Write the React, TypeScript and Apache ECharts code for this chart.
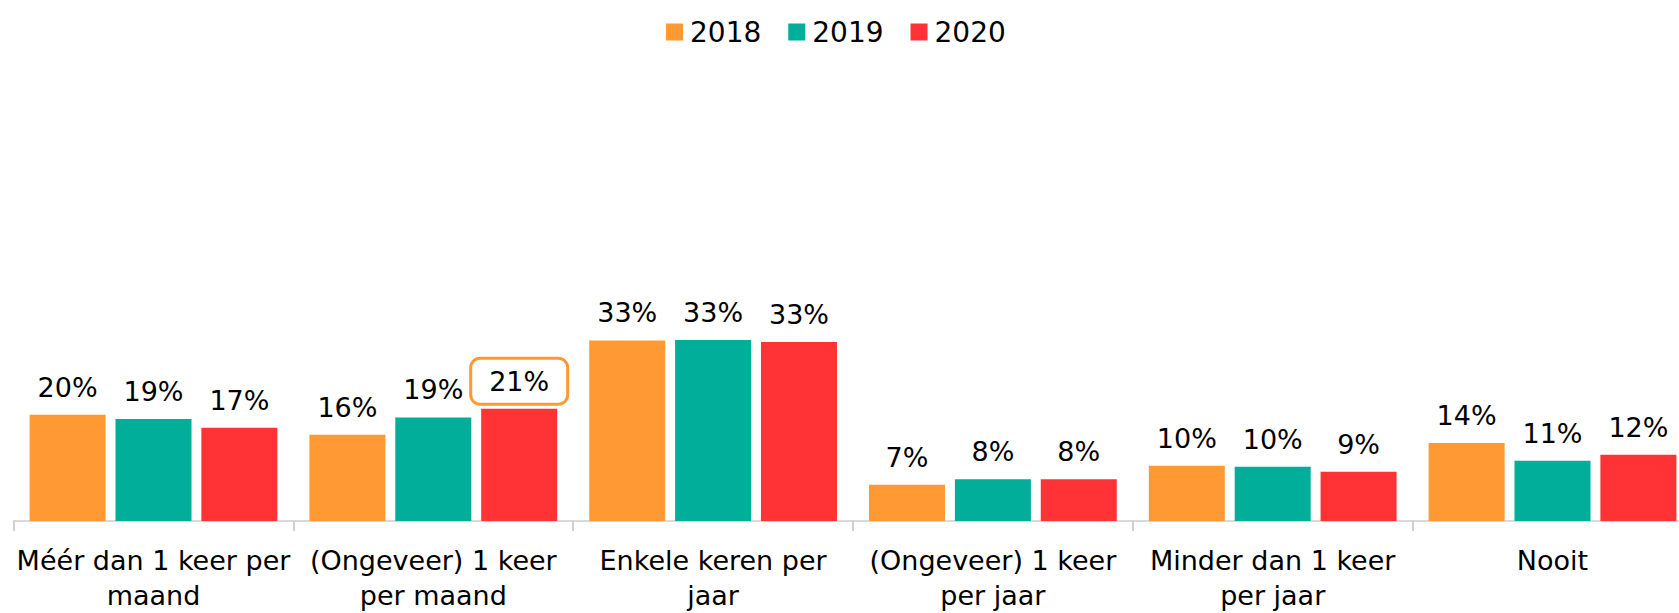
import React, { useEffect, useRef } from "react";
import * as echarts from "echarts";

const categories = [
  "Méér dan 1 keer per\nmaand",
  "(Ongeveer) 1 keer\nper maand",
  "Enkele keren per\njaar",
  "(Ongeveer) 1 keer\nper jaar",
  "Minder dan 1 keer\nper jaar",
  "Nooit",
];
const seriesNames = ["2018", "2019", "2020"];
const values2018 = [19.6, 15.9, 33.3, 6.7, 10.2, 14.4];
const values2019 = [18.8, 19.1, 33.4, 7.7, 10.0, 11.1];
const values2020 = [17.2, 20.7, 33.0, 7.7, 9.1, 12.2];
const colors = ["#FF9933", "#00AE99", "#FF3336"];
const highlightSeries = 2;
const highlightIndex = 1;

const FONT = "DejaVu Sans";

export default function App() {
  const ref = useRef<HTMLDivElement>(null);
  useEffect(() => {
    if (!ref.current) return;
    const chart = echarts.init(ref.current, null, { renderer: "svg" });
    const all = [values2018, values2019, values2020];
    const series = all.map((vals, si) => ({
      name: seriesNames[si],
      type: "bar",
      barWidth: 76,
      barGap: "13%",
      itemStyle: { color: colors[si] },
      label: {
        show: true,
        position: "top",
        distance: 14,
        fontFamily: FONT,
        fontSize: 27,
        color: "#000",
        formatter: (p: any) => Math.round(p.value) + "%",
      },
      data: vals.map((v, i) =>
        si === highlightSeries && i === highlightIndex
          ? {
              value: v,
              label: {
                borderColor: colors[0],
                borderWidth: 3,
                borderRadius: 8,
                padding: [8, 17],
                distance: 6,
                backgroundColor: "#fff",
              },
            }
          : v
      ),
    }));
    chart.setOption({
      animation: false,
      legend: {
        top: 13,
        left: 661,
        icon: "rect",
        itemWidth: 17,
        itemHeight: 17,
        itemGap: 27,
        textStyle: { fontFamily: FONT, fontSize: 28, color: "#000", padding: [0, 0, 0, 2] },
        data: seriesNames,
      },
      grid: { left: 13.6, right: 0.6, top: 87.3, bottom: 90.5, containLabel: false },
      xAxis: {
        type: "category",
        data: categories,
        axisLine: { lineStyle: { color: "#d9d9d9", width: 2 } },
        axisTick: { show: true, length: 10, lineStyle: { color: "#d0d0d0", width: 2 } },
        axisLabel: {
          fontFamily: FONT,
          fontSize: 27,
          color: "#000",
          lineHeight: 35,
          margin: 22,
          interval: 0,
        },
      },
      yAxis: { type: "value", min: 0, max: 80, show: false, splitLine: { show: false } },
      series,
    });
    return () => chart.dispose();
  }, []);
  return (
    <div style={{ width: 1679, height: 613, position: "absolute", left: 0, top: 0, overflow: "hidden" }}>
      <div ref={ref} style={{ width: 1693, height: 613 }} />
    </div>
  );
}
